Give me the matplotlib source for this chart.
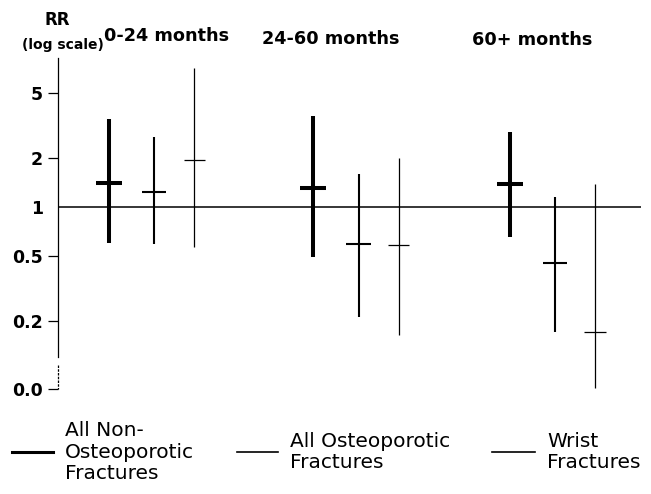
import numpy as np
import matplotlib.pyplot as plt
from matplotlib.lines import Line2D
from matplotlib.ticker import NullLocator

# periods and fracture types
groups = ['0-24 months', '24-60 months', '60+ months']
series = ['All Non-\nOsteoporotic\nFractures', 'All Osteoporotic\nFractures', 'Wrist\nFractures']

# relative risk with lower / upper limits, one value per period
non_rr = [1.40, 1.31, 1.38]
non_lo = [0.60, 0.49, 0.65]
non_hi = [3.46, 3.60, 2.88]

ost_rr = [1.24, 0.59, 0.45]
ost_lo = [0.59, 0.21, 0.17]
ost_hi = [2.69, 1.59, 1.15]

wri_rr = [1.95, 0.585, 0.17]
wri_lo = [0.57, 0.164, 0.078]
wri_hi = [7.1, 2.0, 1.38]

yticks = [0.0764, 0.2, 0.5, 1, 2, 5]
ytick_labels = ['0.0', '0.2', '0.5', '1', '2', '5']

W, H = 651, 494
fig = plt.figure(figsize=(W / 100, H / 100), dpi=100)
ax = fig.add_axes([58 / W, 105 / H, 583 / W, 331 / H])
ax.set_yscale('log')
ax.set_ylim(0.0764, 8.2)
ax.set_xlim(-0.479, 2.429)

for s in ['top', 'right', 'bottom']:
    ax.spines[s].set_visible(False)
ax.spines['left'].set_bounds(0.12, 8.2)
ax.spines['left'].set_linewidth(0.9)
# broken bit of the axis near the bottom
ax.plot([0, 0], [0.107, 0.0764], color='k', lw=0.9, ls=(0, (2, 1)),
        transform=ax.get_yaxis_transform(), clip_on=False)

ax.set_xticks([])
ax.yaxis.set_minor_locator(NullLocator())
ax.set_yticks(yticks)
ax.set_yticklabels(ytick_labels, fontsize=12.5, fontweight='bold')
ax.tick_params(axis='y', length=7.2, width=0.9, pad=3.5)
ax.yaxis.get_major_ticks()[3].tick1line.set_visible(False)

ax.axhline(1, color='k', lw=1.1)

x = np.array([0, 1.02, 2.0])
offsets = [-0.225, 0.0, 0.2]
widths = [2.9, 1.5, 0.9]
caps = [0.065, 0.06, 0.053]
data = [(non_rr, non_lo, non_hi), (ost_rr, ost_lo, ost_hi), (wri_rr, wri_lo, wri_hi)]

for (rr, lo, hi), off, lw, cw in zip(data, offsets, widths, caps):
    xs = x + off
    ax.vlines(xs, lo, hi, color='k', lw=lw, clip_on=False)
    ax.hlines(rr, xs - cw, xs + cw, color='k', lw=lw)

# period headings
title_pos = [(167, 36), (331, 39), (532, 40)]
for g, (px, py) in zip(groups, title_pos):
    fig.text(px / W, 1 - py / H, g, ha='center', va='center',
             fontsize=12.7, fontweight='bold')

fig.text(57.5 / W, 1 - 20 / H, 'RR', ha='center', va='center',
         fontsize=12, fontweight='bold')
fig.text(62.5 / W, 1 - 45 / H, '(log scale)', ha='center', va='center',
         fontsize=10, fontweight='bold')

# legend
leg_y = 1 - 452 / H
leg_lines = [(12, 53), (237, 278), (492, 535)]
leg_text = [65, 290, 547]
for name, (x0, x1), tx, lw in zip(series, leg_lines, leg_text, [2.2, 1.2, 1.2]):
    fig.add_artist(Line2D([x0 / W, x1 / W], [leg_y, leg_y], color='k', lw=lw))
    fig.text(tx / W, leg_y, name, ha='left', va='center', fontsize=14.5,
             linespacing=1.15)

fig.savefig('out.png', dpi=100)
